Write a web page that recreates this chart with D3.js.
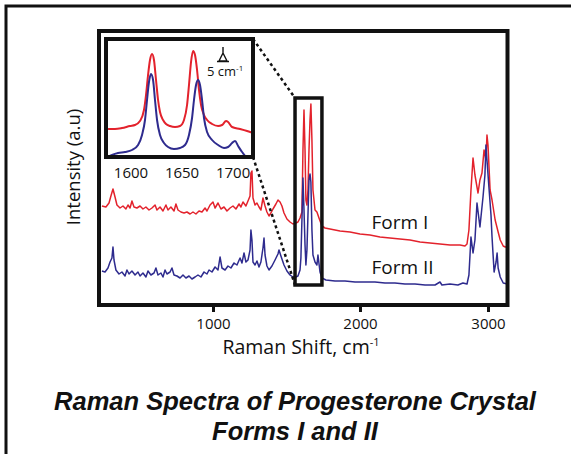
<!DOCTYPE html>
<html><head><meta charset="utf-8">
<script src="https://cdn.jsdelivr.net/npm/d3@7"></script>
<style>body{margin:0;background:#fff}svg{display:block}</style>
</head><body>
<script>
// Raman shift (cm-1), intensity (a.u.)
const formI = [[245,99],[272,98],[293,102],[306,109],[320,116],[334,108],[347,100],[368,97],[388,99],[408,96],[422,100],[436,97],[449,104],[463,98],[483,97],[504,99],[524,96],[544,98],[565,95],[585,97],[606,100],[619,95],[640,98],[660,94],[680,100],[694,95],[714,98],[735,94],[748,101],[762,95],[782,93],[803,92],[823,93],[844,91],[864,93],[884,91],[905,94],[925,93],[946,97],[959,94],[980,100],[1000,103],[1014,97],[1034,102],[1054,96],[1075,98],[1095,94],[1116,97],[1136,99],[1156,96],[1177,101],[1190,98],[1204,103],[1224,99],[1238,104],[1252,109],[1258,132],[1265,134],[1272,107],[1286,100],[1299,102],[1313,98],[1326,95],[1340,107],[1354,99],[1367,93],[1381,89],[1394,92],[1408,96],[1428,101],[1442,105],[1456,103],[1469,99],[1483,92],[1503,86],[1524,83],[1544,81],[1564,82],[1578,83],[1592,87],[1605,93],[1612,155],[1619,195],[1626,155],[1632,105],[1639,100],[1646,115],[1653,155],[1660,185],[1666,201],[1673,165],[1680,115],[1694,95],[1707,93],[1721,87],[1741,79],[1762,77],[1796,76],[1864,74],[1932,73],[2000,71],[2078,70],[2156,68],[2234,67],[2312,66],[2391,65],[2469,63],[2547,62],[2625,61],[2703,60],[2781,60],[2820,59],[2836,61],[2851,75],[2867,115],[2883,147],[2898,130],[2922,112],[2937,125],[2953,132],[2969,155],[2984,145],[2992,170],[3000,160],[3016,115],[3031,105],[3055,85],[3078,73],[3094,65],[3117,59],[3133,58],[3148,58]];
const formII = [[245,34],[266,33],[286,37],[300,43],[313,47],[320,58],[327,45],[340,35],[361,31],[381,33],[402,29],[415,35],[429,31],[449,34],[470,30],[490,33],[504,29],[524,32],[544,28],[558,34],[578,30],[599,32],[612,37],[626,30],[646,32],[660,28],[674,35],[687,31],[708,33],[721,37],[735,30],[755,29],[776,27],[796,30],[816,27],[837,29],[857,26],[878,28],[898,30],[918,28],[939,33],[959,31],[973,35],[993,33],[1014,38],[1034,35],[1048,48],[1061,37],[1082,35],[1102,39],[1122,37],[1143,42],[1163,40],[1184,47],[1197,42],[1211,52],[1224,43],[1238,45],[1252,55],[1258,75],[1265,65],[1272,43],[1286,40],[1299,44],[1313,38],[1326,43],[1340,57],[1347,67],[1354,50],[1367,39],[1381,35],[1401,39],[1422,45],[1442,51],[1449,55],[1462,49],[1483,40],[1503,34],[1524,30],[1544,28],[1564,28],[1578,29],[1592,35],[1598,47],[1605,85],[1612,127],[1619,95],[1626,60],[1632,40],[1639,55],[1646,90],[1653,125],[1660,131],[1666,123],[1673,75],[1680,50],[1694,43],[1707,40],[1714,50],[1728,33],[1741,27],[1768,25],[1830,24],[1898,24],[1966,23],[2039,23],[2117,23],[2195,22],[2273,22],[2351,21],[2430,21],[2508,20],[2586,20],[2625,23],[2640,20],[2703,21],[2765,20],[2804,22],[2836,21],[2851,30],[2867,68],[2883,52],[2898,65],[2914,102],[2937,78],[2961,108],[2976,130],[2984,160],[2992,145],[3007,118],[3023,90],[3031,68],[3047,33],[3062,43],[3070,52],[3078,37],[3094,28],[3117,22],[3148,21]];
// inset: zoom of the carbonyl region
const insetFormI = [[1578,28],[1584.8,28],[1591.7,29],[1599.5,31],[1604.4,32],[1609.3,36],[1613.2,47],[1615.2,62],[1617.2,82],[1619.1,97],[1621.1,103],[1623,97],[1625,77],[1627,57],[1628.9,45],[1631.9,37],[1634.8,33],[1638.7,31],[1643.6,30],[1648.5,31],[1652.4,37],[1655.4,52],[1657.3,72],[1659.3,95],[1661.3,106],[1663.2,102],[1665.2,87],[1667.1,67],[1669.1,52],[1672,42],[1675,37],[1679.9,33],[1685.8,31],[1689.7,32],[1693.6,36],[1695.6,35],[1699.5,30],[1707.3,28],[1714.2,26],[1720,24]];
const insetFormII = [[1578,0],[1581.9,2],[1587.8,4],[1594.6,5],[1601.5,7],[1607.4,12],[1611.3,22],[1614.2,37],[1616.2,57],[1618.1,75],[1620.1,83],[1622.1,77],[1624,57],[1626,37],[1628.9,22],[1632.8,14],[1636.8,10],[1642.6,8],[1648.5,9],[1653.4,12],[1657.3,22],[1660.3,39],[1662.2,57],[1664.2,72],[1666.2,77],[1668.1,72],[1670.1,57],[1672,39],[1675,25],[1679.9,17],[1685.8,12],[1691.6,9],[1695.6,10],[1699.5,14],[1702.4,16],[1705.4,11],[1709.3,5],[1714.2,0],[1719.1,0]];
const xTicks = [1000, 2000, 3000];
const insetTicks = [1600, 1650, 1700];
const zoomShift = [1558, 1741];
const zoomIntensity = [20, 207];
const seriesLabels = ["Form I", "Form II"];
const labelPos = [[2090, 76], [2090, 31]];
const colors = ["#e3222c", "#2e2b8e"];

const W = 571, H = 454;
const FONT = "'Open Sans', 'Noto Sans', sans-serif";
const svg = d3.select("body").append("svg").attr("width", W).attr("height", H)
  .style("font-family", FONT);

// outer frame (only top/left visible)
svg.append("rect").attr("x", 6).attr("y", 6).attr("width", 700).attr("height", 700)
  .attr("fill", "none").attr("stroke", "#111").attr("stroke-width", 3);

const x = d3.scaleLinear().domain([225, 1000, 2000, 3000, 3150]).range([99, 213, 360, 488, 507.5]);
const y = d3.scaleLinear().domain([0, 274]).range([305, 31]);

const line = d3.line().x(d => x(d[0])).y(d => y(d[1]));
svg.append("path").datum(formI).attr("d", line).attr("fill", "none")
  .attr("stroke", colors[0]).attr("stroke-width", 1.5).attr("stroke-linejoin", "round");
svg.append("path").datum(formII).attr("d", line).attr("fill", "none")
  .attr("stroke", colors[1]).attr("stroke-width", 1.5).attr("stroke-linejoin", "round");

// axis ticks
const ax = svg.append("g").attr("transform", `translate(0,${y(0)})`)
  .call(d3.axisBottom(x).tickValues(xTicks).tickSize(7).tickPadding(6).tickFormat(d3.format("d")));
ax.select(".domain").remove();
ax.selectAll(".tick line").attr("stroke", "#111").attr("stroke-width", 3);
ax.selectAll(".tick text").attr("font-size", 15).attr("fill", "#111").style("font-family", FONT);

// main frame
svg.append("rect").attr("x", x.range()[0]).attr("y", y.range()[1])
  .attr("width", x.range()[4] - x.range()[0]).attr("height", y.range()[0] - y.range()[1])
  .attr("fill", "none").attr("stroke", "#111").attr("stroke-width", 4);

// zoom box
const zb = {x0: x(zoomShift[0]), x1: x(zoomShift[1]), y0: y(zoomIntensity[1]), y1: y(zoomIntensity[0])};
svg.append("rect").attr("x", zb.x0).attr("y", zb.y0).attr("width", zb.x1 - zb.x0).attr("height", zb.y1 - zb.y0)
  .attr("fill", "none").attr("stroke", "#111").attr("stroke-width", 3.5);

// inset
const ix = d3.scaleLinear().domain([1576, 1720]).range([106, 253]);
const iy = d3.scaleLinear().domain([0, 118]).range([157, 39]);

// dotted connectors
[[iy.range()[1], zb.y0], [iy.range()[0], zb.y1]].forEach(([ya, yb]) => {
  svg.append("line").attr("x1", ix.range()[1]).attr("y1", ya).attr("x2", zb.x0).attr("y2", yb)
    .attr("stroke", "#111").attr("stroke-width", 2.5).attr("stroke-dasharray", "3,3");
});

svg.append("rect").attr("x", 106).attr("y", 39).attr("width", 147).attr("height", 118).attr("fill", "#fff");
svg.append("clipPath").attr("id", "ic").append("rect").attr("x", 106).attr("y", 39).attr("width", 147).attr("height", 118);
const iline = d3.line().x(d => ix(d[0])).y(d => iy(d[1])).curve(d3.curveMonotoneX);
const ig = svg.append("g").attr("clip-path", "url(#ic)");
ig.append("path").datum(insetFormI).attr("d", iline).attr("fill", "none").attr("stroke", colors[0]).attr("stroke-width", 2);
ig.append("path").datum(insetFormII).attr("d", iline).attr("fill", "none").attr("stroke", colors[1]).attr("stroke-width", 2);
svg.append("rect").attr("x", 106).attr("y", 39).attr("width", 147).attr("height", 118)
  .attr("fill", "none").attr("stroke", "#111").attr("stroke-width", 4);

const iax = svg.append("g").attr("transform", `translate(0,${iy(0)})`)
  .call(d3.axisBottom(ix).tickValues(insetTicks).tickSize(0).tickPadding(10).tickFormat(d3.format("d")));
iax.select(".domain").remove();
iax.selectAll(".tick text").attr("font-size", 15).attr("fill", "#111").style("font-family", FONT);

// resolution marker
svg.append("path").attr("d", "M223,47 L223,54 M219,61 L223,53 L227,61 Z M217,61.5 L229,61.5")
  .attr("fill", "none").attr("stroke", "#111").attr("stroke-width", 1.4);
const rt = svg.append("text").attr("x", 207).attr("y", 76).attr("font-size", 13).attr("fill", "#111");
rt.append("tspan").text("5 cm");
rt.append("tspan").attr("font-size", 8).attr("dy", -5).text("-1");

// series labels
seriesLabels.forEach((t, i) => {
  svg.append("text").attr("x", x(labelPos[i][0])).attr("y", y(labelPos[i][1]))
    .attr("font-size", 19).attr("fill", "#111").text(t);
});

// axis titles
const xt = svg.append("text").attr("x", 301).attr("y", 354).attr("text-anchor", "middle")
  .attr("font-size", 19.5).attr("fill", "#111");
xt.append("tspan").text("Raman Shift, cm");
xt.append("tspan").attr("font-size", 11).attr("dy", -8).text("-1");

svg.append("text").attr("transform", "translate(80,167) rotate(-90)").attr("text-anchor", "middle")
  .attr("font-size", 18.5).attr("fill", "#111").text("Intensity (a.u)");

// title
const title = ["Raman Spectra of Progesterone Crystal", "Forms I and II"];
title.forEach((t, i) => {
  svg.append("text").attr("x", 295).attr("y", 410 + i * 29.5).attr("text-anchor", "middle")
    .style("font-family", "'Liberation Sans', Arial, sans-serif")
    .attr("font-size", 25.5).attr("font-weight", "bold").attr("font-style", "italic")
    .attr("fill", "#111").text(t);
});
</script>
</body></html>
